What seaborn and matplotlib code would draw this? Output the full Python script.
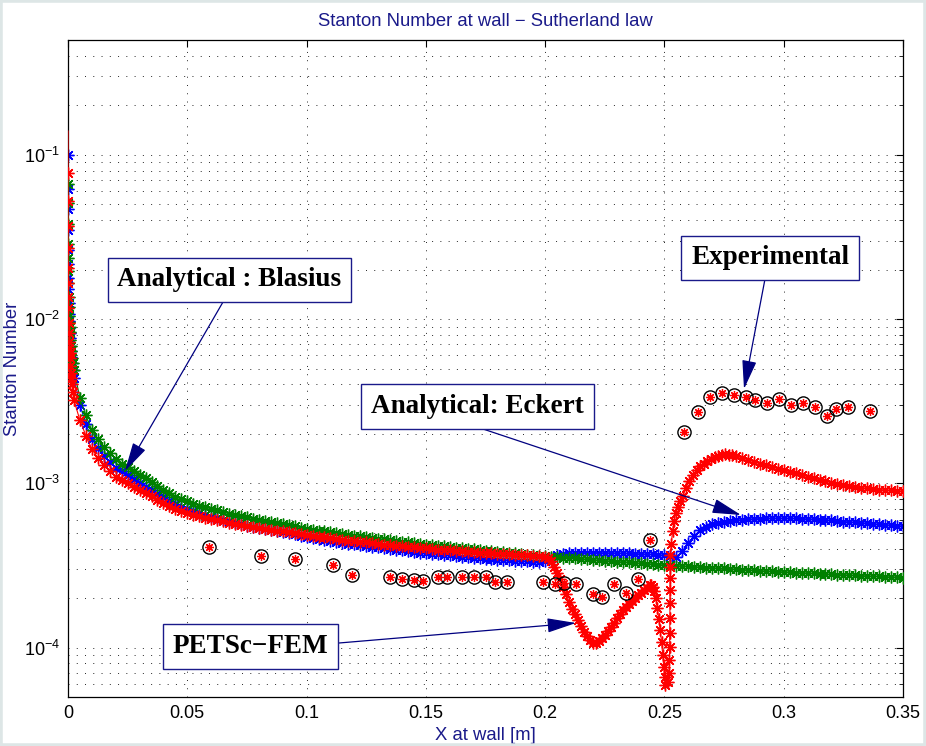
import matplotlib
matplotlib.use("Agg")
import matplotlib.pyplot as plt
import matplotlib.ticker as mticker
from matplotlib.patches import Rectangle
import numpy as np
import pandas as pd
import seaborn as sns

# ------------------------------------------------------------------ data
x_grid = [0.0025, 0.005, 0.0075, 0.01, 0.0125, 0.015, 0.0175, 0.02, 0.0225, 0.025,
          0.0275, 0.03, 0.0325, 0.035, 0.0375, 0.04, 0.0425, 0.045, 0.0475, 0.05,
          0.0525, 0.055, 0.0575, 0.06, 0.0625, 0.065, 0.0675, 0.07, 0.0725, 0.075,
          0.0775, 0.08, 0.0825, 0.085, 0.0875, 0.09, 0.0925, 0.095, 0.0975, 0.1,
          0.1025, 0.105, 0.1075, 0.11, 0.1125, 0.115, 0.1175, 0.12, 0.1225, 0.125,
          0.1275, 0.13, 0.1325, 0.135, 0.1375, 0.14, 0.1425, 0.145, 0.1475, 0.15,
          0.1525, 0.155, 0.1575, 0.16, 0.1625, 0.165, 0.1675, 0.17, 0.1725, 0.175,
          0.1775, 0.18, 0.1825, 0.185, 0.1875, 0.19, 0.1925, 0.195, 0.1975, 0.2,
          0.2025, 0.205, 0.2075, 0.21, 0.2125, 0.215, 0.2175, 0.22, 0.2225, 0.225,
          0.2275, 0.23, 0.2325, 0.235, 0.2375, 0.24, 0.2425, 0.245, 0.2475, 0.25,
          0.2525, 0.255, 0.2575, 0.26, 0.2625, 0.265, 0.2675, 0.27, 0.2725, 0.275,
          0.2775, 0.28, 0.2825, 0.285, 0.2875, 0.29, 0.2925, 0.295, 0.2975, 0.3,
          0.3025, 0.305, 0.3075, 0.31, 0.3125, 0.315, 0.3175, 0.32, 0.3225, 0.325,
          0.3275, 0.33, 0.3325, 0.335, 0.3375, 0.34, 0.3425, 0.345, 0.3475, 0.35]

near_x = [0.00001, 0.00002, 0.00004, 0.00007, 0.0001, 0.00015, 0.0002, 0.0003, 0.0004,
          0.0005, 0.0006, 0.0007, 0.0008, 0.001, 0.0012, 0.0014, 0.0017, 0.002]

# green series
green_near_y = [0.066, 0.051, 0.038, 0.0285, 0.0235, 0.0195, 0.0166, 0.0136, 0.0118,
                0.0105, 0.0096, 0.0089, 0.0083, 0.0075, 0.0069, 0.0064, 0.0058, 0.0054]
green_grid_y = [4.9e-3, 3.3e-3, 2.6e-3, 2.1e-3, 1.85e-3, 1.66e-3, 1.52e-3, 1.40e-3, 1.32e-3, 1.26e-3,
                1.18e-3, 1.12e-3, 1.07e-3, 1.02e-3, 9.6e-4, 9.1e-4, 8.7e-4, 8.3e-4, 8.0e-4, 7.75e-4,
                7.5e-4, 7.3e-4, 7.15e-4, 7.0e-4, 6.84e-4, 6.68e-4, 6.54e-4, 6.41e-4, 6.3e-4, 6.2e-4,
                6.1e-4, 5.99e-4, 5.9e-4, 5.8e-4, 5.71e-4, 5.62e-4, 5.54e-4, 5.46e-4, 5.38e-4, 5.3e-4,
                5.23e-4, 5.16e-4, 5.1e-4, 5.04e-4, 4.98e-4, 4.92e-4, 4.86e-4, 4.8e-4, 4.75e-4, 4.7e-4,
                4.65e-4, 4.6e-4, 4.55e-4, 4.51e-4, 4.46e-4, 4.41e-4, 4.37e-4, 4.33e-4, 4.28e-4, 4.24e-4,
                4.2e-4, 4.17e-4, 4.13e-4, 4.09e-4, 4.05e-4, 4.02e-4, 3.99e-4, 3.96e-4, 3.92e-4, 3.89e-4,
                3.86e-4, 3.83e-4, 3.8e-4, 3.77e-4, 3.74e-4, 3.71e-4, 3.68e-4, 3.66e-4, 3.63e-4, 3.6e-4,
                3.57e-4, 3.55e-4, 3.53e-4, 3.51e-4, 3.49e-4, 3.47e-4, 3.44e-4, 3.42e-4, 3.4e-4, 3.38e-4,
                3.36e-4, 3.34e-4, 3.32e-4, 3.3e-4, 3.28e-4, 3.26e-4, 3.24e-4, 3.22e-4, 3.2e-4, 3.18e-4,
                3.16e-4, 3.15e-4, 3.13e-4, 3.12e-4, 3.1e-4, 3.09e-4, 3.07e-4, 3.06e-4, 3.04e-4, 3.03e-4,
                3.01e-4, 3.0e-4, 2.98e-4, 2.97e-4, 2.95e-4, 2.94e-4, 2.92e-4, 2.91e-4, 2.9e-4, 2.89e-4,
                2.87e-4, 2.86e-4, 2.85e-4, 2.84e-4, 2.83e-4, 2.82e-4, 2.8e-4, 2.79e-4, 2.78e-4, 2.77e-4,
                2.76e-4, 2.75e-4, 2.74e-4, 2.73e-4, 2.72e-4, 2.71e-4, 2.7e-4, 2.69e-4, 2.68e-4, 2.67e-4]

# blue series
blue_first_x = [0.000005]
blue_first_y = [0.1]
blue_near_y = [0.062, 0.047, 0.035, 0.0265, 0.0215, 0.0178, 0.0153, 0.0125, 0.0108,
               0.0097, 0.0088, 0.0082, 0.0077, 0.0069, 0.0064, 0.0059, 0.0054, 0.0049]
blue_grid_y = [4.4e-3, 3.0e-3, 2.3e-3, 1.87e-3, 1.63e-3, 1.47e-3, 1.34e-3, 1.24e-3, 1.18e-3, 1.13e-3,
               1.06e-3, 1.0e-3, 9.5e-4, 9.1e-4, 8.6e-4, 8.2e-4, 7.8e-4, 7.45e-4, 7.2e-4, 6.95e-4,
               6.75e-4, 6.57e-4, 6.4e-4, 6.25e-4, 6.12e-4, 5.99e-4, 5.87e-4, 5.75e-4, 5.64e-4, 5.53e-4,
               5.44e-4, 5.35e-4, 5.26e-4, 5.17e-4, 5.1e-4, 5.02e-4, 4.95e-4, 4.88e-4, 4.8e-4, 4.72e-4,
               4.65e-4, 4.59e-4, 4.53e-4, 4.47e-4, 4.41e-4, 4.36e-4, 4.3e-4, 4.25e-4, 4.2e-4, 4.16e-4,
               4.11e-4, 4.07e-4, 4.03e-4, 3.99e-4, 3.94e-4, 3.9e-4, 3.86e-4, 3.83e-4, 3.79e-4, 3.76e-4,
               3.73e-4, 3.7e-4, 3.67e-4, 3.64e-4, 3.61e-4, 3.58e-4, 3.55e-4, 3.53e-4, 3.5e-4, 3.48e-4,
               3.45e-4, 3.43e-4, 3.41e-4, 3.39e-4, 3.37e-4, 3.36e-4, 3.35e-4, 3.34e-4, 3.34e-4, 3.35e-4,
               3.5e-4, 3.66e-4, 3.72e-4, 3.76e-4, 3.77e-4, 3.78e-4, 3.78e-4, 3.78e-4, 3.78e-4, 3.77e-4,
               3.77e-4, 3.76e-4, 3.75e-4, 3.74e-4, 3.73e-4, 3.72e-4, 3.7e-4, 3.69e-4, 3.67e-4, 3.65e-4,
               3.62e-4, 3.58e-4, 3.85e-4, 4.35e-4, 4.8e-4, 5.2e-4, 5.45e-4, 5.62e-4, 5.74e-4, 5.83e-4,
               5.9e-4, 5.96e-4, 6.0e-4, 6.04e-4, 6.07e-4, 6.1e-4, 6.12e-4, 6.13e-4, 6.13e-4, 6.13e-4,
               6.12e-4, 6.11e-4, 6.09e-4, 6.07e-4, 6.04e-4, 6.01e-4, 5.98e-4, 5.94e-4, 5.9e-4, 5.85e-4,
               5.82e-4, 5.78e-4, 5.74e-4, 5.7e-4, 5.66e-4, 5.62e-4, 5.59e-4, 5.56e-4, 5.52e-4, 5.49e-4]

# red series (PETSc-FEM)
red_first_x = [0.0, 0.000005]
red_first_y = [0.14, 0.077]
red_near_y = [0.052, 0.037, 0.027, 0.0205, 0.0165, 0.0137, 0.0116, 0.0095, 0.0082,
              0.0073, 0.0067, 0.0062, 0.0058, 0.0052, 0.0047, 0.0044, 0.004, 0.0036]
red_grid_y = [3.2e-3, 2.42e-3, 1.95e-3, 1.62e-3, 1.43e-3, 1.29e-3, 1.18e-3, 1.10e-3, 1.05e-3, 1.01e-3,
              9.5e-4, 9.1e-4, 8.7e-4, 8.4e-4, 7.95e-4, 7.55e-4, 7.25e-4, 6.95e-4, 6.75e-4, 6.57e-4,
              6.43e-4, 6.29e-4, 6.18e-4, 6.08e-4, 5.97e-4, 5.87e-4, 5.77e-4, 5.67e-4, 5.59e-4, 5.51e-4,
              5.43e-4, 5.36e-4, 5.29e-4, 5.22e-4, 5.15e-4, 5.09e-4, 5.03e-4, 4.97e-4, 4.9e-4, 4.82e-4,
              4.77e-4, 4.73e-4, 4.68e-4, 4.63e-4, 4.58e-4, 4.53e-4, 4.48e-4, 4.44e-4, 4.4e-4, 4.37e-4,
              4.32e-4, 4.28e-4, 4.24e-4, 4.21e-4, 4.17e-4, 4.14e-4, 4.1e-4, 4.07e-4, 4.04e-4, 4.01e-4,
              3.98e-4, 3.95e-4, 3.93e-4, 3.91e-4, 3.88e-4, 3.86e-4, 3.84e-4, 3.82e-4, 3.79e-4, 3.77e-4,
              3.75e-4, 3.73e-4, 3.71e-4, 3.69e-4, 3.67e-4, 3.66e-4, 3.64e-4, 3.63e-4, 3.61e-4]
red_dip_x = [0.2, 0.20125, 0.2025, 0.20375, 0.205, 0.20625, 0.2075, 0.20875, 0.21, 0.21125,
             0.2125, 0.21375, 0.215, 0.21625, 0.2175, 0.21875, 0.22, 0.22125, 0.2225, 0.22375,
             0.225, 0.22625, 0.2275, 0.22875, 0.23, 0.23125, 0.2325, 0.23375, 0.235, 0.23625,
             0.2375, 0.23875, 0.24, 0.24125, 0.2425, 0.24375, 0.2445, 0.2452, 0.2458, 0.2464,
             0.247, 0.2476, 0.2482, 0.2488, 0.2493, 0.2497, 0.2501, 0.2503]
red_dip_y = [3.58e-4, 3.5e-4, 3.35e-4, 3.1e-4, 2.85e-4, 2.6e-4, 2.35e-4, 2.12e-4, 1.9e-4, 1.72e-4,
             1.6e-4, 1.48e-4, 1.36e-4, 1.25e-4, 1.17e-4, 1.11e-4, 1.07e-4, 1.07e-4, 1.1e-4, 1.14e-4,
             1.19e-4, 1.26e-4, 1.34e-4, 1.42e-4, 1.51e-4, 1.6e-4, 1.69e-4, 1.77e-4, 1.85e-4, 1.93e-4,
             2.0e-4, 2.08e-4, 2.16e-4, 2.24e-4, 2.32e-4, 2.39e-4, 2.42e-4, 2.35e-4, 2.2e-4, 2.0e-4,
             1.75e-4, 1.5e-4, 1.28e-4, 1.08e-4, 9.0e-5, 7.6e-5, 6.6e-5, 5.9e-5]
red_wall_x = [0.2515, 0.2519, 0.2521, 0.2522, 0.2522, 0.2523, 0.2523, 0.2523, 0.2524, 0.2524, 0.2525]
red_wall_y = [6.18e-5, 7.02e-5, 8.41e-5, 1.01e-4, 1.23e-4, 1.52e-4, 1.87e-4, 2.24e-4, 2.65e-4, 3.1e-4, 3.66e-4]
red_rise_x = [0.2529, 0.2534, 0.254, 0.2547, 0.2555, 0.2565, 0.2578, 0.259, 0.2605, 0.262, 0.2635,
              0.265, 0.2665, 0.268, 0.2695, 0.271, 0.2725, 0.274, 0.2755, 0.277, 0.2785, 0.28]
red_rise_y = [4.3e-4, 5.1e-4, 5.9e-4, 6.6e-4, 7.2e-4, 7.8e-4, 8.4e-4, 9.4e-4, 1.04e-3, 1.12e-3, 1.2e-3,
              1.27e-3, 1.32e-3, 1.37e-3, 1.41e-3, 1.44e-3, 1.47e-3, 1.49e-3, 1.5e-3, 1.49e-3, 1.48e-3, 1.46e-3]
red_tail_y = [1.43e-3, 1.39e-3, 1.355e-3, 1.32e-3, 1.29e-3, 1.26e-3, 1.23e-3, 1.2e-3,
              1.175e-3, 1.15e-3, 1.125e-3, 1.1e-3, 1.075e-3, 1.05e-3, 1.03e-3, 1.01e-3, 9.95e-4, 9.8e-4,
              9.65e-4, 9.5e-4, 9.4e-4, 9.3e-4, 9.22e-4, 9.15e-4, 9.1e-4, 9.05e-4, 9.0e-4, 8.95e-4]

# experimental points
exp_x = [0.059, 0.081, 0.095, 0.111, 0.119, 0.135, 0.140, 0.145, 0.149, 0.155, 0.159, 0.165,
         0.170, 0.175, 0.179, 0.184, 0.199, 0.204, 0.208, 0.213, 0.220, 0.224, 0.229, 0.234,
         0.239, 0.244, 0.258, 0.264, 0.269, 0.274, 0.279, 0.284, 0.288, 0.293, 0.298, 0.303,
         0.308, 0.313, 0.318, 0.322, 0.327, 0.336]
exp_y = [4.10e-4, 3.61e-4, 3.46e-4, 3.18e-4, 2.77e-4, 2.69e-4, 2.62e-4, 2.58e-4, 2.55e-4, 2.69e-4,
         2.69e-4, 2.69e-4, 2.69e-4, 2.69e-4, 2.51e-4, 2.51e-4, 2.51e-4, 2.44e-4, 2.48e-4, 2.44e-4,
         2.12e-4, 2.03e-4, 2.44e-4, 2.15e-4, 2.62e-4, 4.52e-4, 2.05e-3, 2.72e-3, 3.35e-3, 3.54e-3,
         3.44e-3, 3.35e-3, 3.21e-3, 3.08e-3, 3.26e-3, 2.99e-3, 3.08e-3, 2.91e-3, 2.57e-3, 2.83e-3,
         2.91e-3, 2.75e-3]

x_ticks = [0, 0.05, 0.1, 0.15, 0.2, 0.25, 0.3, 0.35]
x_tick_labels = ["0", "0.05", "0.1", "0.15", "0.2", "0.25", "0.3", "0.35"]

title_text = "Stanton Number at wall \u2212 Sutherland law"
xlabel_text = "X at wall [m]"
ylabel_text = "Stanton Number"

# annotation boxes: (text, box centre px, arrow start px, arrow tip px)
notes = [
    ("Analytical : Blasius", (229.5, 280), (223, 302), (125, 471)),
    ("Experimental", (770, 258), (765, 279), (744, 389)),
    ("Analytical: Eckert", (477.5, 406.5), (480, 428), (741, 515)),
    ("PETSc\u2212FEM", (250.5, 646.5), (339, 643), (576, 623)),
]

# ------------------------------------------------------------------ style
sns.set_style("white")
plt.rcParams["font.family"] = ["Liberation Sans", "DejaVu Sans"]
plt.rcParams["axes.linewidth"] = 0.9

NAVY = "#1a1a8a"
W, H = 926, 746
fig = plt.figure(figsize=(W / 100, H / 100), dpi=100)
fig.patch.set_facecolor("white")
ax = fig.add_axes([68 / W, 49 / H, 835 / W, 657 / H])
ax.set_yscale("log")

AST = (8, 2, 0)   # 8-armed asterisk like MATLAB '*'


def curve(x, y, color, markevery=None, z=2):
    df = pd.DataFrame({"x": x, "y": y})
    sns.lineplot(data=df, x="x", y="y", ax=ax, estimator=None, sort=False,
                 color=color, linewidth=0.8, marker=AST, ms=8.5,
                 mec=color, mew=1.0, markevery=markevery, zorder=z)


blue_x = blue_first_x + near_x + x_grid
blue_y = blue_first_y + blue_near_y + blue_grid_y
green_x = near_x + x_grid
green_y = green_near_y + green_grid_y
red_x = red_first_x + near_x + x_grid[:79] + red_dip_x + red_wall_x + red_rise_x + x_grid[112:]
red_y = red_first_y + red_near_y + red_grid_y + red_dip_y + red_wall_y + red_rise_y + red_tail_y

curve(blue_x, blue_y, "#0000ff", z=2)
curve(green_x, green_y, "#008000", z=3)
curve(red_x, red_y, "#ff0000", markevery=list(range(1, len(red_x))), z=4)

edf = pd.DataFrame({"x": exp_x, "y": exp_y})
sns.lineplot(data=edf, x="x", y="y", ax=ax, estimator=None, sort=False,
             linestyle="none", marker="o", ms=9.5, mfc="none", mec="black",
             mew=1.0, color="black", zorder=5)
sns.lineplot(data=edf, x="x", y="y", ax=ax, estimator=None, sort=False,
             linestyle="none", marker=AST, ms=6.5, mec="#ff0000",
             mew=0.9, color="#ff0000", zorder=6)

ax.set_xlim(0, 0.35)
ax.set_ylim(5e-5, 0.5)
ax.set_xticks(x_ticks)
ax.set_xticklabels(x_tick_labels)
ax.xaxis.set_minor_locator(mticker.NullLocator())
ax.yaxis.set_major_locator(mticker.LogLocator(base=10, numticks=12))
ax.yaxis.set_minor_locator(mticker.LogLocator(base=10, subs=np.arange(2, 10), numticks=12))
ax.yaxis.set_minor_formatter(mticker.NullFormatter())

dot = (0, (1, 7.5))
ax.grid(True, which="major", axis="both", linestyle=dot, linewidth=0.7, color="0.15")
ax.grid(True, which="minor", axis="y", linestyle=dot, linewidth=0.7, color="0.15")
ax.set_axisbelow(True)

ax.tick_params(which="both", direction="in", top=True, right=True, colors="black",
               labelsize=13)
ax.tick_params(which="major", length=5, width=0.8)
ax.tick_params(which="minor", length=3, width=0.6)
ax.tick_params(axis="x", pad=6)
ax.tick_params(axis="y", pad=6)
for s in ax.spines.values():
    s.set_color("black")
    s.set_linewidth(0.9)

ax.set_title(title_text, color=NAVY, fontsize=13.3, pad=10)
ax.set_xlabel(xlabel_text, color=NAVY, fontsize=13.3)
ax.set_ylabel(ylabel_text, color=NAVY, fontsize=13.3)
ax.xaxis.set_label_coords(0.5, -0.045)
ax.yaxis.set_label_coords(-0.056, 0.5)

# annotations
for text, (cx, cy), (sx, sy), (tx, ty) in notes:
    ax.annotate("", xy=(tx / W, 1 - ty / H), xycoords="figure fraction",
                xytext=(sx / W, 1 - sy / H), textcoords="figure fraction",
                arrowprops=dict(arrowstyle="-|>,head_length=1.2,head_width=0.3",
                                color="#000080", lw=0.9, mutation_scale=15,
                                shrinkA=0, shrinkB=0),
                annotation_clip=False, zorder=8)
    fig.text(cx / W, 1 - cy / H, text, ha="center", va="center",
             family=["Liberation Serif", "DejaVu Serif"], fontweight="bold",
             fontsize=19.5, color="black", zorder=10,
             bbox=dict(boxstyle="square,pad=0.36", fc="white", ec=NAVY, lw=1.0))

fig.patches.append(Rectangle((0, 0), 1, 1, transform=fig.transFigure, fill=False,
                             edgecolor="#dde6e6", lw=4, zorder=20))

fig.savefig("out.png", dpi=100, facecolor="white")
